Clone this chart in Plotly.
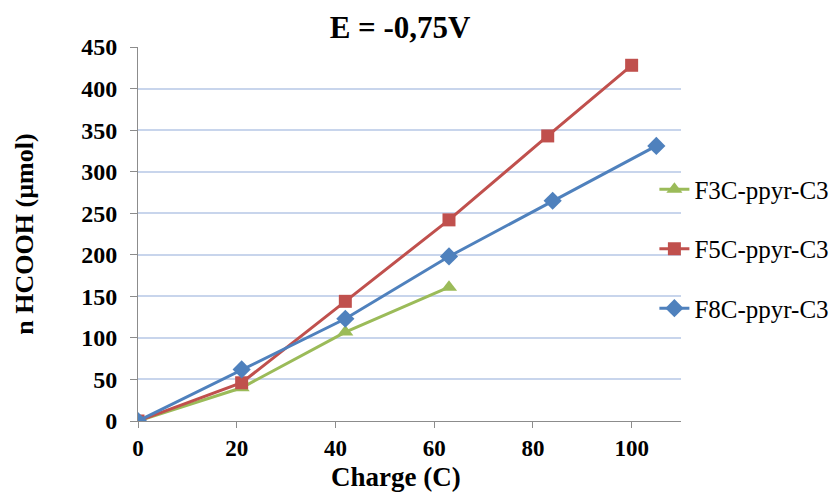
import plotly.graph_objects as go

series_names = ["F3C-ppyr-C3", "F5C-ppyr-C3", "F8C-ppyr-C3"]
x_f3c = [0, 21, 42, 63]
y_f3c = [0, 40, 107, 161]
x_f5c = [0, 21, 42, 63, 83, 100]
y_f5c = [0, 46, 144, 242, 343, 428]
x_f8c = [0, 21, 42, 63, 84, 105]
y_f8c = [0, 62, 123, 198, 265, 331]
x_ticks = [0, 20, 40, 60, 80, 100]
y_ticks = [0, 50, 100, 150, 200, 250, 300, 350, 400, 450]
colors = ["#9BBB59", "#C0504D", "#4F81BD"]
symbols = ["triangle-up", "square", "diamond"]
sizes = [14, 13, 14]

FONT = "Liberation Serif, Times New Roman, serif"

fig = go.Figure()
for i, (xs, ys) in enumerate([(x_f3c, y_f3c), (x_f5c, y_f5c), (x_f8c, y_f8c)]):
    fig.add_trace(go.Scatter(
        x=xs, y=ys, name=series_names[i], mode="lines+markers",
        line=dict(color=colors[i], width=3),
        marker=dict(symbol=symbols[i], size=sizes[i], color=colors[i]),
        legendgroup=series_names[i],
    ))

fig.update_layout(
    width=830, height=493,
    margin=dict(l=138, r=149, t=47, b=72, autoexpand=False),
    paper_bgcolor="white", plot_bgcolor="white",
    font=dict(family=FONT, color="black"),
    title=dict(text="<b>E = -0,75V</b>", x=0.482, xanchor="center", y=0.945, yanchor="middle",
               font=dict(size=31, family=FONT, color="black")),
    legend=dict(x=0.951, y=0.46, xanchor="left", yanchor="middle",
                font=dict(size=25, family=FONT, color="black"),
                tracegroupgap=24, bgcolor="rgba(0,0,0,0)"),
    showlegend=True,
    annotations=[dict(text="<b>Charge (C)</b>", xref="paper", yref="paper",
                      x=0.475, y=-0.1925, xanchor="center", yanchor="bottom",
                      showarrow=False, borderpad=0,
                      font=dict(size=27, family=FONT, color="black"))],
)
fig.update_xaxes(
    range=[0, 110], tickvals=x_ticks, ticktext=["<b>%d</b>" % v for v in x_ticks],
    showline=True, linecolor="#8c8c8c", linewidth=1,
    ticks="outside", ticklen=6, tickcolor="#8c8c8c",
    showgrid=False, zeroline=False,
    tickfont=dict(size=23, family=FONT, color="black"),
)
fig.update_yaxes(
    range=[0, 450], tickvals=y_ticks, ticktext=["<b>%d</b>" % v for v in y_ticks],
    showline=True, linecolor="#8c8c8c", linewidth=1,
    ticks="outside", ticklen=7, tickcolor="#8c8c8c", ticklabelstandoff=8,
    showgrid=True, gridcolor="#C8D5EC", gridwidth=1.5, zeroline=False,
    tickfont=dict(size=24, family=FONT, color="black"),
    title=dict(text="<b>n HCOOH (µmol)</b>", font=dict(size=26, family=FONT, color="black"), standoff=40),
)

fig.write_html("out.html", config={"displayModeBar": False},
               post_script="document.body.style.margin='0';")
